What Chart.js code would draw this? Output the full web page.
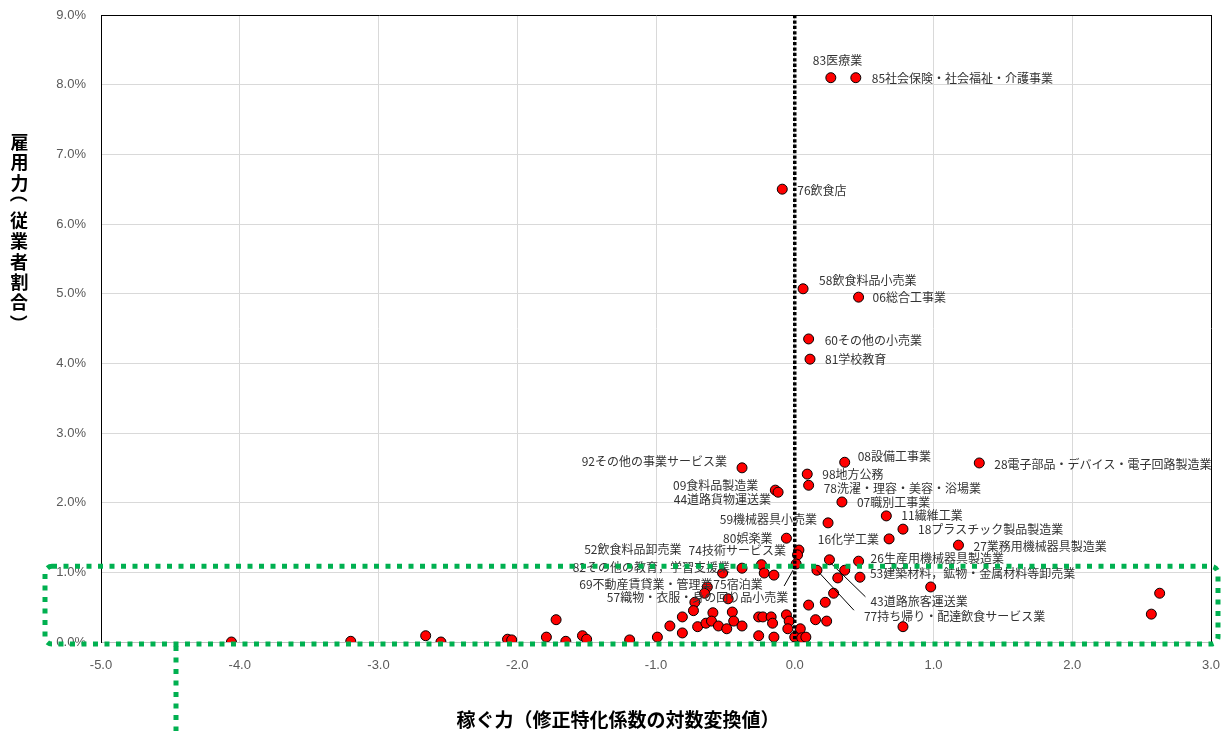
<!DOCTYPE html>
<html>
<head>
<meta charset="utf-8">
<script src="https://cdn.jsdelivr.net/npm/chart.js@4.4.1/dist/chart.umd.min.js"></script>
<style>
html,body{margin:0;padding:0;background:#fff;}
canvas{display:block;}
</style>
</head>
<body>
<canvas id="c" width="1221" height="731"></canvas>
<script>
// ---- data ----
const earningPower = [0.26,0.44,-0.09,0.06,0.46,0.10,0.11,-0.38,-0.14,-0.12,
  0.36,1.33,0.09,0.10,0.34,0.66,0.78,0.24,-0.06,0.68,
  1.18,0.03,0.02,0.01,0.25,0.46,0.16,0.36,0.31,0.47,
  0.98,0.28,2.63,2.57,0.22,0.10,0.15,0.23,0.78,-0.06,
  -0.04,-0.05,0.04,0.00,0.05,0.08,-0.24,-0.22,-0.15,-0.38,
  -0.52,-0.63,-0.65,-0.72,-0.48,-0.73,-0.59,-0.45,-0.81,-0.44,
  -0.38,-0.90,-0.81,-0.70,-0.64,-0.60,-0.55,-0.49,-0.26,-0.23,
  -0.17,-0.16,-0.26,-0.15,-0.99,-1.19,-1.53,-1.50,-1.65,-1.72,
  -1.79,-2.07,-2.04,-2.55,-2.66,-3.20,-4.06];
const employmentShare = [8.10,8.10,6.50,5.07,4.95,4.35,4.06,2.50,2.18,2.15,
  2.58,2.57,2.41,2.25,2.01,1.81,1.62,1.71,1.49,1.48,
  1.39,1.32,1.25,1.12,1.18,1.16,1.03,1.03,0.92,0.93,
  0.79,0.70,0.70,0.40,0.57,0.53,0.32,0.30,0.22,0.39,
  0.30,0.19,0.19,0.07,0.06,0.07,1.11,0.99,0.96,1.06,
  0.99,0.79,0.70,0.57,0.62,0.45,0.42,0.43,0.36,0.30,
  0.23,0.23,0.13,0.22,0.27,0.30,0.23,0.19,0.36,0.36,
  0.36,0.27,0.09,0.07,0.07,0.03,0.09,0.04,0.01,0.32,
  0.07,0.04,0.03,0.00,0.09,0.01,0.00];
const industryNames = ['83医療業','85社会保険・社会福祉・介護事業','76飲食店','58飲食料品小売業','06総合工事業',
  '60その他の小売業','81学校教育','92その他の事業サービス業','09食料品製造業','44道路貨物運送業',
  '08設備工事業','28電子部品・デバイス・電子回路製造業','98地方公務','78洗濯・理容・美容・浴場業','07職別工事業',
  '11繊維工業','18プラスチック製品製造業','59機械器具小売業','80娯楽業','16化学工業',
  '27業務用機械器具製造業','74技術サービス業','','57織物・衣服・身の回り品小売業','43道路旅客運送業',
  '26生産用機械器具製造業','77持ち帰り・配達飲食サービス業','','','53建築材料，鉱物・金属材料等卸売業',
  '','','','','','','','','','',
  '','','','','','','52飲食料品卸売業','','','82その他の教育，学習支援業',
  '69不動産賃貸業・管理業','75宿泊業'];
const xTickValues = [-5,-4,-3,-2,-1,0,1,2,3];
const yTickValues = [0,1,2,3,4,5,6,7,8,9];
const xTitle = '稼ぐ力（修正特化係数の対数変換値）';
const yTitle = '雇用力（従業者割合）';

// ---- label layout (pixel offsets from point) ----
const labelLayout = {
  '83医療業':[-18,-17,'left'],
  '85社会保険・社会福祉・介護事業':[16,1,'left'],
  '76飲食店':[15,1,'left'],
  '58飲食料品小売業':[16,-8,'left'],
  '06総合工事業':[14,0,'left'],
  '60その他の小売業':[16,1,'left'],
  '81学校教育':[15,0,'left'],
  '92その他の事業サービス業':[-15,-6,'right'],
  '09食料品製造業':[-17,-5,'right'],
  '44道路貨物運送業':[-7,7,'right'],
  '08設備工事業':[13,-6,'left'],
  '28電子部品・デバイス・電子回路製造業':[15,1,'left'],
  '98地方公務':[15,0,'left'],
  '78洗濯・理容・美容・浴場業':[15,3,'left'],
  '07職別工事業':[15,0,'left'],
  '11繊維工業':[15,0,'left'],
  '18プラスチック製品製造業':[15,0,'left'],
  '59機械器具小売業':[-11,-3,'right'],
  '80娯楽業':[-14,0,'right'],
  '16化学工業':[-10,1,'right'],
  '27業務用機械器具製造業':[15,1,'left'],
  '74技術サービス業':[-13,0,'right'],
  '57織物・衣服・身の回り品小売業':[-8,33,'right',[-3,6,-12,22]],
  '43道路旅客運送業':[41,42,'left',[1,3,36,37]],
  '26生産用機械器具製造業':[12,-3,'left'],
  '77持ち帰り・配達飲食サービス業':[47,46,'left',[0,0,37,40]],
  '53建築材料，鉱物・金属材料等卸売業':[10,-4,'left'],
  '52飲食料品卸売業':[-80,-15,'right'],
  '82その他の教育，学習支援業':[-12,-1,'right'],
  '69不動産賃貸業・管理業':[-10,11,'right'],
  '75宿泊業':[6,-3,'left']
};

const points = earningPower.map((x,i)=>({x:x,y:employmentShare[i]}));

const overlayPlugin = {
  id:'overlay',
  afterDatasetsDraw(chart){
    const ctx = chart.ctx;
    const xs = chart.scales.x, ys = chart.scales.y;
    const meta = chart.getDatasetMeta(0);
    const ca = chart.chartArea;
    ctx.save();
    // zero line (black dotted)
    const x0 = xs.getPixelForValue(0);
    ctx.strokeStyle = '#000';
    ctx.lineWidth = 3.5;
    ctx.setLineDash([3.3,2.1]);
    ctx.beginPath();
    ctx.moveTo(x0, ca.top);
    ctx.lineTo(x0, ca.bottom);
    ctx.stroke();
    ctx.setLineDash([]);
    // labels
    ctx.font = '12px "Noto Sans CJK JP"';
    ctx.fillStyle = '#333';
    ctx.textBaseline = 'middle';
    meta.data.forEach((el,i)=>{
      const name = industryNames[i];
      if(!name) return;
      const lay = labelLayout[name];
      if(!lay) return;
      const px = el.x, py = el.y;
      ctx.textAlign = lay[2];
      ctx.fillText(name, px+lay[0], py+lay[1]);
      if(lay[3]){
        const L = lay[3];
        ctx.strokeStyle = '#000';
        ctx.lineWidth = 1;
        ctx.beginPath();
        ctx.moveTo(px+L[0], py+L[1]);
        ctx.lineTo(px+L[2], py+L[3]);
        ctx.stroke();
      }
    });
    // green dotted highlight
    const gTop = ys.getPixelForValue(1.1) + 1;
    const gBottom = ca.bottom + 2;
    ctx.strokeStyle = '#00B050';
    ctx.lineWidth = 5;
    ctx.setLineDash([5,6.5]);
    ctx.beginPath();
    ctx.roundRect(45, gTop, 1218-45, gBottom-gTop, 7);
    ctx.stroke();
    ctx.beginPath();
    ctx.moveTo(176, gBottom+2);
    ctx.lineTo(176, 731);
    ctx.stroke();
    ctx.setLineDash([]);
    // titles
    ctx.fillStyle = '#000';
    ctx.font = 'bold 19px "Noto Sans CJK JP"';
    ctx.textAlign = 'center';
    ctx.textBaseline = 'middle';
    ctx.fillText(xTitle, 618, 720);
    // vertical y title
    const ycent = [142,163,183,199,220,241,262,282,302,318];
    ctx.font = 'bold 18px "Noto Sans CJK JP"';
    ctx.textAlign = 'left';
    ctx.textBaseline = 'alphabetic';
    [...yTitle].forEach((ch,i)=>{
      const m = ctx.measureText(ch);
      ctx.save();
      ctx.translate(19, ycent[i]);
      if(ch==='（'||ch==='）') ctx.rotate(Math.PI/2);
      const cx = (m.actualBoundingBoxRight - m.actualBoundingBoxLeft)/2;
      const cy = (m.actualBoundingBoxDescent - m.actualBoundingBoxAscent)/2;
      ctx.fillText(ch, -cx, -cy);
      ctx.restore();
    });
    ctx.restore();
  }
};

new Chart(document.getElementById('c'), {
  type:'scatter',
  data:{datasets:[{
    data:points,
    pointRadius:5,
    pointHoverRadius:5,
    pointBackgroundColor:'#FF0000',
    pointBorderColor:'#000',
    pointBorderWidth:1
  }]},
  options:{
    responsive:false,
    devicePixelRatio:1,
    animation:false,
    events:[],
    layout:{padding:{left:0,right:10,top:15,bottom:0}},
    plugins:{legend:{display:false},tooltip:{enabled:false}},
    scales:{
      x:{
        type:'linear', min:-5, max:3,
        afterBuildTicks:s=>{s.ticks = xTickValues.map(v=>({value:v}));},
        afterFit:s=>{s.height=89; s.paddingLeft=0; s.paddingRight=0;},
        grid:{color:c=>c.tick&&c.tick.value===3?'#000':'#D9D9D9', drawTicks:false, lineWidth:1},
        border:{color:'#BFBFBF'},
        ticks:{padding:16, color:'#595959', font:{family:'"Liberation Sans"', size:13}, callback:v=>Number(v).toFixed(1)}
      },
      y:{
        type:'linear', min:0, max:9,
        afterBuildTicks:s=>{s.ticks = yTickValues.map(v=>({value:v}));},
        afterFit:s=>{s.width=101; s.paddingTop=0; s.paddingBottom=0;},
        grid:{color:c=>c.tick&&c.tick.value===9?'#000':'#D9D9D9', drawTicks:false, lineWidth:1},
        border:{color:'#000'},
        ticks:{padding:15, color:'#595959', font:{family:'"Liberation Sans"', size:13}, callback:v=>Number(v).toFixed(1)+'%'}
      }
    }
  },
  plugins:[overlayPlugin]
});
</script>
</body>
</html>
